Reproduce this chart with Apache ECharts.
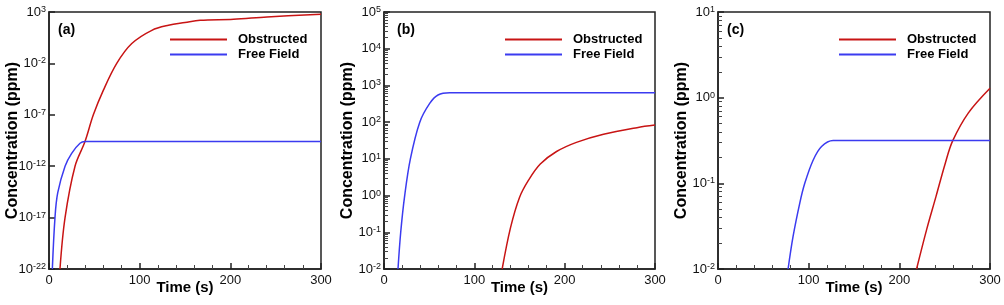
<!DOCTYPE html>
<html>
<head>
<meta charset="utf-8">
<script src="https://cdn.jsdelivr.net/npm/echarts@6/dist/echarts.min.js"></script>
<style>
  html, body { margin: 0; padding: 0; background: #fff; }
  #main { width: 1004px; height: 305px; }
</style>
</head>
<body>
<div id="main"></div>
<script>
// concentrations are given as decimal exponents (log10 of ppm)

// (a)
const obsTimeA = [12.1, 17.7, 28.7, 39.7, 48.9, 60, 74.7, 91.3, 113.4, 131.8, 150, 166.7, 203.5, 240.4, 300]
const obsExpA = [-22, -17, -12, -9.6, -7, -4.6, -2, -0.07, 1.22, 1.71, 1.97, 2.19, 2.29, 2.52, 2.78]
const freeTimeA = [3.7, 6.6, 9.6, 17.7, 25, 34.2, 39.7, 50, 100, 200, 300]
const freeExpA = [-22, -17, -14.6, -12, -10.75, -9.77, -9.6, -9.6, -9.6, -9.6, -9.6]

// (b)
const obsTimeB = [130.8, 140, 150, 160, 173, 191, 213, 243, 280, 300]
const obsExpB = [-2, -0.88, -0.05, 0.42, 0.86, 1.2, 1.45, 1.67, 1.85, 1.92]
const freeTimeB = [15.5, 18.5, 22.9, 29.2, 39.6, 50.6, 59.8, 72.8, 90, 150, 300]
const freeExpB = [-2, -1, 0, 1, 2, 2.51, 2.74, 2.8, 2.8, 2.8, 2.8]

// (c)
const obsTimeC = [219, 230.1, 240.4, 250.7, 258.8, 276, 300]
const obsExpC = [-2, -1.54, -1.155, -0.765, -0.505, -0.18, 0.11]
const freeTimeC = [77.3, 82.8, 90.2, 95.7, 104.9, 114.2, 127, 150, 200, 300]
const freeExpC = [-2, -1.62, -1.23, -1, -0.73, -0.57, -0.5, -0.5, -0.5, -0.5]

// axes
const panelNames = ['(a)', '(b)', '(c)']
const yMinExp = [-22, -2, -2]
const yMaxExp = [3, 5, 1]
const yStepExp = [5, 1, 1]
const minorMultipliers = [2, 3, 4, 5, 6, 7, 8, 9]

const RED = '#c81414'
const BLUE = '#3b3bf0'
const INK = '#222'
const FONT = 'Liberation Sans, Arial, sans-serif'

const gridLefts = [49, 384, 718]
const gridWidths = [272, 271, 272]

const zip = (a, b) => a.map((t, i) => [t, b[i]])
const obsData = [zip(obsTimeA, obsExpA), zip(obsTimeB, obsExpB), zip(obsTimeC, obsExpC)]
const freeData = [zip(freeTimeA, freeExpA), zip(freeTimeB, freeExpB), zip(freeTimeC, freeExpC)]

// log minor ticks (2..9 in every decade), panels b and c
function minorTickValues(lo, hi) {
  const out = []
  for (let e = lo; e < hi; e++) {
    minorMultipliers.forEach(k => out.push(e + Math.log10(k)))
  }
  return out
}

const chart = echarts.init(document.getElementById('main'))

const grid = [], xAxis = [], yAxis = [], series = [], title = [], legend = []

for (let i = 0; i < 3; i++) {
  grid.push({
    left: gridLefts[i], top: 12, width: gridWidths[i], height: 257,
    show: true, borderColor: INK, borderWidth: 1.5, backgroundColor: 'transparent'
  })
  xAxis.push({
    type: 'value', gridIndex: i, min: 0, max: 300, interval: 100,
    name: 'Time (s)', nameLocation: 'middle', nameGap: 11, nameMoveOverlap: false,
    nameTextStyle: { fontSize: 15, fontWeight: 'bold', color: '#000', fontFamily: FONT },
    axisLine: { show: true, onZero: false, lineStyle: { color: INK, width: 1.5 } },
    axisTick: { show: true, inside: true, length: 6, lineStyle: { color: INK, width: 1.5 } },
    minorTick: { show: true, splitNumber: 5, length: 4, lineStyle: { color: '#444', width: 1 } },
    splitLine: { show: false },
    axisLabel: { color: '#111', fontSize: 13, fontFamily: FONT, margin: 5 }
  })
  const yIndex = yAxis.length
  yAxis.push({
    type: 'value', gridIndex: i, min: yMinExp[i], max: yMaxExp[i], interval: yStepExp[i],
    name: 'Concentration (ppm)', nameLocation: 'middle', nameGap: 28, nameMoveOverlap: false,
    nameTextStyle: { fontSize: 16, fontWeight: 'bold', color: '#000', fontFamily: FONT },
    axisLine: { show: true, onZero: false, lineStyle: { color: INK, width: 1.5 } },
    axisTick: { show: true, inside: true, length: 6, lineStyle: { color: INK, width: 1.5 } },
    minorTick: { show: false },
    splitLine: { show: false },
    axisLabel: {
      margin: 3,
      formatter: v => '{b|10}{s|' + v + '}',
      rich: {
        b: { fontSize: 13, color: '#111', fontFamily: FONT, lineHeight: 14 },
        s: { fontSize: 9, color: '#111', fontFamily: FONT, lineHeight: 10, verticalAlign: 'top', padding: [0, 0, 9, 0] }
      }
    }
  })
  if (i > 0) {
    // second axis on the same grid, only for the logarithmic minor ticks
    yAxis.push({
      type: 'value', gridIndex: i, min: yMinExp[i], max: yMaxExp[i], position: 'left',
      axisLine: { show: false, onZero: false },
      axisLabel: { show: false },
      splitLine: { show: false },
      axisTick: {
        show: true, inside: true, length: 4,
        customValues: minorTickValues(yMinExp[i], yMaxExp[i]),
        lineStyle: { color: '#444', width: 1 }
      }
    })
  }
  title.push({
    text: panelNames[i], left: gridLefts[i] + (i === 1 ? 13 : 9), top: 23, padding: 0,
    textStyle: { fontSize: 14, fontWeight: 'bold', color: '#000', fontFamily: FONT }
  })
  legend.push({
    data: ['Obstructed', 'Free Field'],
    orient: 'vertical', left: gridLefts[i] + 121, top: 32, padding: 0,
    icon: 'rect', itemWidth: 57, itemHeight: 2, itemGap: 0,
    selectedMode: false,
    textStyle: { fontSize: 13, fontWeight: 'bold', color: '#000', fontFamily: FONT, lineHeight: 15, padding: [0, 0, 0, 6] }
  })
  series.push({
    name: 'Obstructed', type: 'line', xAxisIndex: i, yAxisIndex: yIndex,
    data: obsData[i], symbol: 'none', smooth: 0.35,
    lineStyle: { color: RED, width: 1.5 }, itemStyle: { color: RED }
  })
  series.push({
    name: 'Free Field', type: 'line', xAxisIndex: i, yAxisIndex: yIndex,
    data: freeData[i], symbol: 'none', smooth: 0.35,
    lineStyle: { color: BLUE, width: 1.5 }, itemStyle: { color: BLUE }
  })
}

chart.setOption({
  animation: false,
  backgroundColor: '#fff',
  title, legend, grid, xAxis, yAxis, series
})
</script>
</body>
</html>
